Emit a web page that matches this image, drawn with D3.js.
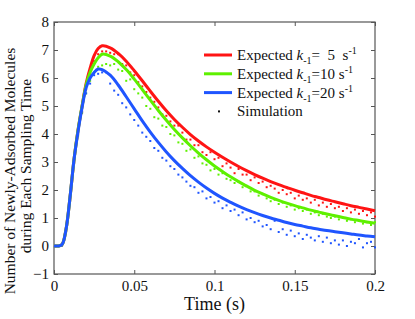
<!DOCTYPE html>
<html>
<head>
<meta charset="utf-8">
<script src="https://cdn.jsdelivr.net/npm/d3@7"></script>
<style>
  body { margin: 0; background: #fff; }
  svg text { font-family: "Liberation Serif", "Times New Roman", serif; fill: #111; }
</style>
</head>
<body>
<div id="chart"></div>
<script>
// expected curves
var lineT =  [0, 0.0025, 0.005, 0.0075, 0.01, 0.0125, 0.015, 0.0175, 0.02, 0.0225, 0.025, 0.0275, 0.03, 0.035, 0.04, 0.045, 0.05, 0.055, 0.06, 0.065, 0.07, 0.075, 0.08, 0.085, 0.09, 0.095, 0.1,
  0.105, 0.11, 0.115, 0.12, 0.125, 0.13, 0.135, 0.14, 0.145, 0.15, 0.155, 0.16, 0.165, 0.17, 0.175, 0.18, 0.185, 0.19, 0.195, 0.2];
var red5 =   [0, 0, 0.05, 0.6, 1.75, 3.1, 4.15, 5.0, 5.8, 6.35, 6.8, 7.05, 7.15, 7.08, 6.88, 6.6, 6.26, 5.9, 5.53, 5.17, 4.83, 4.52, 4.24, 3.98, 3.75, 3.54, 3.35,
  3.17, 3.0, 2.84, 2.69, 2.55, 2.42, 2.3, 2.19, 2.09, 1.99, 1.9, 1.81, 1.73, 1.65, 1.58, 1.51, 1.44, 1.38, 1.32, 1.26];
var green10 =[0, 0, 0.05, 0.6, 1.75, 3.1, 4.15, 5.0, 5.75, 6.2, 6.5, 6.72, 6.85, 6.78, 6.58, 6.3, 5.96, 5.59, 5.21, 4.84, 4.49, 4.16, 3.86, 3.58, 3.32, 3.08, 2.86,
  2.66, 2.47, 2.3, 2.14, 1.99, 1.86, 1.74, 1.63, 1.53, 1.44, 1.36, 1.28, 1.21, 1.14, 1.08, 1.02, 0.96, 0.91, 0.86, 0.81];
var blue20 = [0, 0, 0.05, 0.6, 1.75, 3.1, 4.1, 4.95, 5.65, 6.0, 6.2, 6.32, 6.3, 6.1, 5.75, 5.33, 4.9, 4.47, 4.07, 3.7, 3.36, 3.05, 2.77, 2.51, 2.28, 2.07, 1.88,
  1.71, 1.56, 1.42, 1.3, 1.19, 1.09, 1.0, 0.92, 0.84, 0.77, 0.71, 0.65, 0.6, 0.55, 0.51, 0.47, 0.43, 0.39, 0.36, 0.33];

// simulation samples, one every 0.0025 s
var simStep = 0.0025;
var simRed = [0, 0.02, 0.5, 1.6, 2.95, 4.0, 4.8, 5.6, 6.15, 6.6, 6.85, 6.95, 6.95, 6.9, 6.85, 6.85, 6.5, 6.45, 6.2, 6.1,
  5.85, 5.7, 5.5, 5.3, 5.15, 4.95, 4.7, 4.65, 4.45, 4.3, 4.3, 4.05, 3.8, 3.8, 3.6, 3.6, 3.35, 3.25, 3.35, 3.1,
  3.15, 2.85, 2.95, 2.8, 2.6, 2.75, 2.55, 2.55, 2.35, 2.45, 2.25, 2.3, 2.1, 2.15, 2.05, 1.9, 2.0, 1.85, 1.9, 1.7,
  1.8, 1.65, 1.7, 1.55, 1.65, 1.45, 1.55, 1.4, 1.5, 1.35, 1.4, 1.25, 1.35, 1.2, 1.3, 1.15, 1.25, 1.1, 1.2, 1.05];
var simGreen = [0, 0.02, 0.5, 1.6, 2.95, 3.95, 4.75, 5.45, 5.9, 6.2, 6.4, 6.45, 6.5, 6.45, 6.5, 6.3, 6.25, 5.9, 5.95, 5.6,
  5.45, 5.3, 5.0, 4.9, 4.6, 4.55, 4.3, 4.25, 4.0, 3.95, 3.7, 3.65, 3.4, 3.45, 3.15, 3.2, 2.95, 2.9, 2.7, 2.75,
  2.55, 2.6, 2.4, 2.35, 2.25, 2.3, 2.1, 2.15, 1.95, 1.95, 1.8, 1.85, 1.7, 1.6, 1.65, 1.5, 1.55, 1.4, 1.45, 1.3,
  1.35, 1.25, 1.3, 1.15, 1.2, 1.1, 1.15, 1.05, 1.0, 1.05, 0.95, 1.0, 0.9, 0.95, 0.85, 0.9, 0.8, 0.85, 0.75, 0.85];
var simBlue = [0, 0.02, 0.5, 1.6, 2.95, 3.95, 4.8, 5.45, 5.8, 6.1, 6.15, 6.2, 6.2, 5.8, 5.55, 5.4, 5.1, 4.95, 4.7, 4.5,
  4.3, 4.05, 3.9, 3.75, 3.5, 3.4, 3.15, 3.05, 2.85, 2.75, 2.55, 2.45, 2.3, 2.15, 2.1, 1.9, 1.95, 1.7, 1.75, 1.55,
  1.6, 1.35, 1.45, 1.25, 1.3, 1.1, 1.2, 0.95, 1.0, 0.85, 0.9, 0.7, 0.75, 0.6, 0.9, 0.5, 0.6, 0.4, 0.55, 0.35,
  0.45, 0.25, 0.4, 0.3, 0.2, 0.35, 0.15, 0.3, 0.1, 0.2, 0.05, 0.2, 0.0, 0.15, 0.1, 0.25, -0.05, 0.1, 0.15, -0.05];

var xTicks = [0, 0.05, 0.1, 0.15, 0.2];
var yTicks = [-1, 0, 1, 2, 3, 4, 5, 6, 7, 8];
var kValues = ["5", "10", "20"];
var colors = ["#ff1414", "#5ef000", "#1f55ff"];

var width = 415, height = 319;
var margin = {top: 22, right: 40, bottom: 45, left: 54};
var serif = "Liberation Serif";

var svg = d3.select("#chart").append("svg")
  .attr("width", width).attr("height", height)
  .attr("font-family", serif);

var x = d3.scaleLinear().domain([0, 0.2]).range([margin.left, width - margin.right]);
var y = d3.scaleLinear().domain([-1, 8]).range([height - margin.bottom, margin.top]);

var axisColor = "#555";

// frame
svg.append("rect")
  .attr("x", x(0)).attr("y", y(8))
  .attr("width", x(0.2) - x(0)).attr("height", y(-1) - y(8))
  .attr("fill", "none").attr("stroke", axisColor).attr("stroke-width", 1.2);

// inward ticks on every side
function drawAxis(axis, tx, ty) {
  var g = svg.append("g").attr("transform", "translate(" + tx + "," + ty + ")").call(axis);
  g.attr("font-family", serif).attr("font-size", 15);
  g.select(".domain").remove();
  g.selectAll(".tick line").attr("stroke", axisColor);
  return g;
}
drawAxis(d3.axisBottom(x).tickValues(xTicks).tickSizeInner(-4).tickPadding(6).tickFormat(d3.format("")), 0, y(-1));
drawAxis(d3.axisTop(x).tickValues(xTicks).tickSizeInner(-4).tickFormat(""), 0, y(8));
drawAxis(d3.axisLeft(y).tickValues(yTicks).tickSizeInner(-4).tickPadding(5), x(0), 0);
drawAxis(d3.axisRight(y).tickValues(yTicks).tickSizeInner(-4).tickFormat(""), x(0.2), 0);

// simulation dots
var sims = [simRed, simGreen, simBlue];
sims.forEach(function(series, k) {
  svg.append("g").selectAll("rect").data(series).enter()
    .append("rect")
    .attr("x", function(d, i){ return x((i + 1) * simStep) - 1; })
    .attr("y", function(d){ return y(d) - 1; })
    .attr("width", 2).attr("height", 2)
    .attr("fill", colors[k]);
});

// expected curves
var line = d3.line()
  .x(function(d){ return x(d[0]); })
  .y(function(d){ return y(d[1]); })
  .curve(d3.curveCatmullRom.alpha(0.5));
[red5, green10, blue20].forEach(function(series, k) {
  svg.append("path")
    .datum(series.map(function(v, i){ return [lineT[i], v]; }))
    .attr("fill", "none")
    .attr("stroke", colors[k])
    .attr("stroke-width", 3)
    .attr("d", line);
});

// axis titles
svg.append("text")
  .attr("x", (x(0) + x(0.2)) / 2).attr("y", 310)
  .attr("text-anchor", "middle").attr("font-size", 18)
  .text("Time (s)");

var ylab = svg.append("g").attr("transform", "translate(15,171) rotate(-90)");
ylab.append("text").attr("text-anchor", "middle").attr("font-size", 15.5)
  .text("Number of Newly-Adsorbed Molecules");
ylab.append("text").attr("x", 5).attr("y", 16).attr("text-anchor", "middle").attr("font-size", 15.5)
  .text("during Each Sampling Time");

// legend
var legend = svg.append("g").attr("transform", "translate(204,55)");
kValues.forEach(function(kv, i) {
  var row = legend.append("g").attr("transform", "translate(0," + (i * 18.8) + ")");
  row.append("line").attr("x1", 0).attr("x2", 28).attr("y1", 0).attr("y2", 0)
    .attr("stroke", colors[i]).attr("stroke-width", 3);
  var t = row.append("text").attr("x", 33).attr("y", 5).attr("font-size", 15);
  t.append("tspan").text("Expected ");
  t.append("tspan").attr("font-style", "italic").text("k");
  t.append("tspan").attr("font-size", 10).attr("dy", 4).text("-1");
  t.append("tspan").attr("dy", -4).text(kv.length === 1 ? "=\u00a0\u00a05\u00a0" : "=" + kv);
  t.append("tspan").text("\u00a0s");
  t.append("tspan").attr("font-size", 10).attr("dy", -6).text("-1");
});
var simRow = legend.append("g").attr("transform", "translate(0," + (3 * 18.8) + ")");
simRow.append("rect").attr("x", 14).attr("y", -1).attr("width", 2).attr("height", 2).attr("fill", "#111");
simRow.append("text").attr("x", 33).attr("y", 5).attr("font-size", 15).text("Simulation");
</script>
</body>
</html>
